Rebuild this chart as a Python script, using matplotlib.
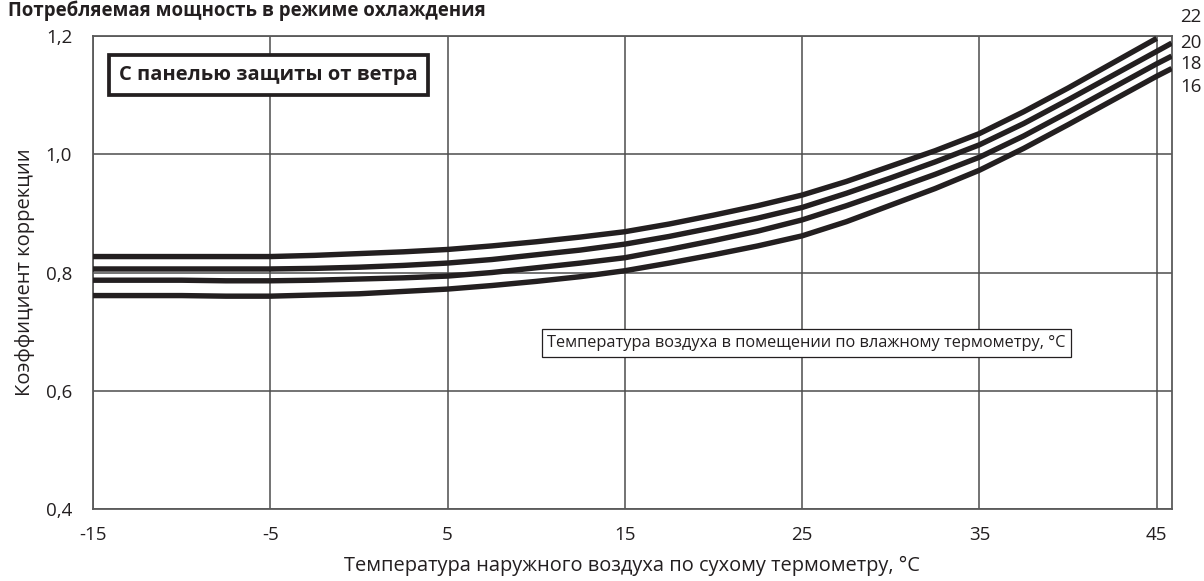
import numpy as np
import matplotlib
matplotlib.use('Agg')
import matplotlib.pyplot as plt

plt.rcParams['font.family'] = ['Open Sans', 'DejaVu Sans']

# outdoor dry-bulb temperature, °C
temp_out = [-15, -12.5, -10, -7.5, -5, -2.5, 0, 2.5, 5, 7.5, 10, 12.5, 15, 17.5, 20,
            22.5, 25, 27.5, 30, 32.5, 35, 37.5, 40, 42.5, 45, 45.85]

# correction factor for indoor wet-bulb temperature 22, 20, 18, 16 °C
wb_22 = [0.827, 0.827, 0.827, 0.827, 0.827, 0.829, 0.832, 0.835, 0.839, 0.845, 0.852, 0.860, 0.869,
         0.882, 0.897, 0.913, 0.931, 0.954, 0.980, 1.006, 1.035, 1.072, 1.112, 1.154, 1.196, None]
wb_20 = [0.806, 0.806, 0.806, 0.806, 0.806, 0.807, 0.809, 0.812, 0.816, 0.822, 0.830, 0.838, 0.848,
         0.861, 0.876, 0.892, 0.910, 0.934, 0.960, 0.987, 1.016, 1.052, 1.092, 1.133, 1.174, 1.188]
wb_18 = [0.787, 0.787, 0.787, 0.786, 0.786, 0.787, 0.789, 0.791, 0.794, 0.800, 0.808, 0.816, 0.825,
         0.839, 0.854, 0.870, 0.889, 0.913, 0.939, 0.966, 0.995, 1.031, 1.071, 1.112, 1.153, 1.166]
wb_16 = [0.761, 0.761, 0.761, 0.760, 0.760, 0.762, 0.764, 0.768, 0.772, 0.778, 0.785, 0.793, 0.803,
         0.816, 0.830, 0.845, 0.862, 0.886, 0.914, 0.942, 0.973, 1.010, 1.050, 1.091, 1.132, 1.145]

series = [wb_22, wb_20, wb_18, wb_16]
series_labels = ['22', '20', '18', '16']

x_ticks = [-15, -5, 5, 15, 25, 35, 45]
y_ticks = [0.4, 0.6, 0.8, 1.0, 1.2]
y_tick_labels = ['0,4', '0,6', '0,8', '1,0', '1,2']

fig = plt.figure(figsize=(12.04, 5.81), dpi=100)
ax = fig.add_axes([0.0772, 0.1239, 0.9732 - 0.0772, 0.938 - 0.1239])

ax.set_xlim(-15, 45.85)
ax.set_ylim(0.4, 1.2)
ax.set_xticks(x_ticks)
ax.set_xticklabels([str(t) for t in x_ticks])
ax.set_yticks(y_ticks)
ax.set_yticklabels(y_tick_labels)
ax.tick_params(length=0, labelsize=13.5, colors='#231f20')
ax.tick_params(axis='x', pad=12)
ax.tick_params(axis='y', pad=15)
ax.grid(True, color='#4d4d4d', linewidth=1.1)
ax.set_axisbelow(True)
for s in ax.spines.values():
    s.set_color('#5a5a5a')
    s.set_linewidth(1.3)

for vals in series:
    xs = [t for t, v in zip(temp_out, vals) if v is not None]
    ys = [v for v in vals if v is not None]
    ax.plot(xs, ys, color='#231f20', linewidth=3.9, solid_capstyle='butt',
            solid_joinstyle='round', zorder=3)

# series labels at the right edge
for lab, yf in zip(series_labels, [1.040, 0.986, 0.941, 0.893]):
    ax.text(1.008, yf, lab, transform=ax.transAxes, fontsize=13.5,
            ha='left', va='center', color='#231f20', clip_on=False)

ax.set_xlabel('Температура наружного воздуха по сухому термометру, °C', fontsize=14.4,
              color='#231f20')
ax.xaxis.set_label_coords(0.5, -0.100)
ax.set_ylabel('Коэффициент коррекции', fontsize=14.5, color='#231f20')
ax.yaxis.set_label_coords(-0.054, 0.5)

fig.text(0.007, 0.972, 'Потребляемая мощность в режиме охлаждения', fontsize=13.4,
         fontweight='bold', color='#231f20', ha='left', va='baseline')

ax.text(0.1627, 0.9175, 'С панелью защиты от ветра', transform=ax.transAxes, fontsize=14.5,
        fontweight='bold', color='#231f20', ha='center', va='center', zorder=5,
        bbox=dict(boxstyle='square,pad=0.5', facecolor='white', edgecolor='#231f20', linewidth=2.7))

ax.text(0.6615, 0.351, 'Температура воздуха в помещении по влажному термометру, °C',
        transform=ax.transAxes, fontsize=11.8, color='#231f20', ha='center', va='center', zorder=5,
        bbox=dict(boxstyle='square,pad=0.35', facecolor='white', edgecolor='#231f20', linewidth=0.9))

fig.savefig('out.png', dpi=100)
